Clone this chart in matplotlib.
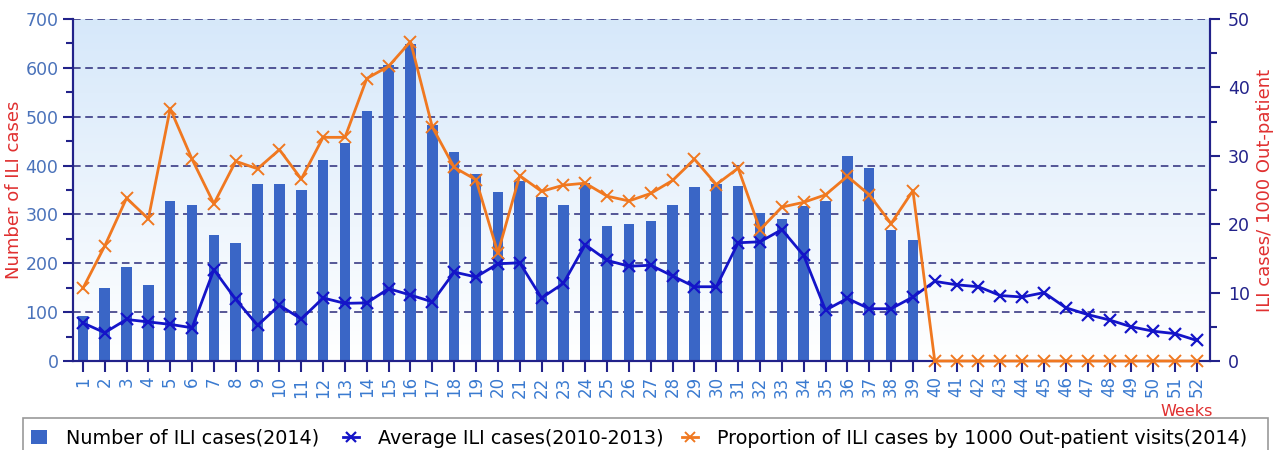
import numpy as np
import matplotlib
matplotlib.use("Agg")
import matplotlib.pyplot as plt
from matplotlib.patches import Rectangle

weeks = list(range(1, 53))

# Number of ILI cases (2014), weeks 1-39
cases_2014 = [93, 149, 192, 156, 327, 320, 257, 241, 362, 362, 350, 411,
              447, 511, 606, 648, 484, 428, 383, 346, 368, 336, 320, 364,
              276, 280, 287, 320, 356, 363, 359, 303, 290, 317, 327, 419,
              396, 268, 248]

# Average ILI cases 2010-2013, weeks 1-52
avg_cases = [78, 58, 85, 80, 75, 68, 187, 126, 73, 114, 86, 129,
             118, 119, 148, 135, 121, 182, 172, 199, 201, 129, 159, 238,
             206, 194, 196, 174, 152, 152, 242, 244, 269, 216, 104, 128,
             107, 107, 131, 163, 156, 152, 134, 131, 140, 109, 95, 84,
             70, 61, 56, 42]

# ILI cases per 1000 out-patient visits (2014)
proportion = [10.6, 16.8, 23.8, 20.8, 36.9, 29.5, 23.0, 29.2, 28.1, 30.9,
              26.6, 32.7, 32.7, 41.3, 43.1, 46.7, 34.2, 28.3, 26.5, 15.8,
              27.1, 24.8, 25.7, 26.0, 24.1, 23.4, 24.5, 26.4, 29.5, 25.8,
              28.2, 19.2, 22.5, 23.2, 24.3, 27.0, 24.3, 20.1, 24.9,
              0, 0, 0, 0, 0, 0, 0, 0, 0, 0, 0, 0, 0]

bar_color = "#3a66c6"
avg_color = "#1414c8"
prop_color = "#f07820"
axis_color = "#22228a"
red = "#e03030"

W, H = 1274, 450
fig = plt.figure(figsize=(W / 100, H / 100), dpi=100)
ax = fig.add_axes([73 / W, 89 / H, (1210 - 73) / W, 342 / H])
ax2 = ax.twinx()

# light blue gradient background
grad = np.linspace(1, 0, 256).reshape(-1, 1)
top = np.array([0.84, 0.91, 0.98])
bottom = np.array([1.0, 1.0, 1.0])
img = bottom + (top - bottom) * grad[..., None]
ax.imshow(img, extent=[0, 1, 0, 1], transform=ax.transAxes, aspect="auto", zorder=0)

b = ax.bar(weeks[:len(cases_2014)], cases_2014, width=0.48, color=bar_color,
           zorder=2, label="Number of ILI cases(2014)")
l1, = ax.plot(weeks, avg_cases, color=avg_color, marker="x", markersize=9,
              markeredgewidth=1.6, linewidth=2, zorder=3,
              label="Average ILI cases(2010-2013)")
l2, = ax2.plot(weeks, proportion, color=prop_color, marker="x", markersize=9,
               markeredgewidth=1.4, linewidth=2, zorder=3, clip_on=False,
               label="Proportion of ILI cases by 1000 Out-patient visits(2014)")

ax.set_xlim(0.55, 52.6)
ax.set_ylim(0, 700)
ax2.set_ylim(0, 50)

ax.set_yticks(range(0, 701, 100))
ax.set_yticks(range(50, 700, 100), minor=True)
ax2.set_yticks(range(0, 51, 10))
ax2.set_yticks(range(5, 50, 10), minor=True)
ax.set_xticks(weeks)
ax.set_xticklabels([str(w) for w in weeks], rotation=90, color="#3a7ad0", fontsize=12)

ax.yaxis.grid(True, which="major", linestyle=(0, (5, 3)), color="#2a2a7a",
              linewidth=1.1, zorder=1)
ax.set_axisbelow(True)

for a in (ax, ax2):
    a.spines["top"].set_visible(False)
    for s in ("left", "right", "bottom"):
        a.spines[s].set_color(axis_color)
        a.spines[s].set_linewidth(1.5)
    a.tick_params(which="both", color=axis_color, width=1.5)
    a.tick_params(which="major", length=7)
    a.tick_params(which="minor", length=5)

ax.tick_params(axis="y", labelcolor="#4a72ba", labelsize=12.5)
ax2.tick_params(axis="y", labelcolor=axis_color, labelsize=12.5, pad=6)
ax.tick_params(axis="x", length=8, pad=3)

ax.set_ylabel("Number of ILI cases", color=red, fontsize=13, labelpad=2)
ax2.set_ylabel("ILI cases/ 1000 Out-patient", color=red, fontsize=13, labelpad=4)
fig.text(1213 / W, 1 - 412 / H, "Weeks", color=red, fontsize=11.5,
         ha="right", va="center")

# legend box spans the width and runs off the bottom edge
fig.patches.append(Rectangle((23 / W, -0.05), (1268 - 23) / W, 0.05 + (H - 418) / H,
                             transform=fig.transFigure, fill=False,
                             edgecolor="#999999", linewidth=1.2))
leg_y = 1 - 438 / H
for handle, x_left in [(b, 31), (l1, 343), (l2, 682)]:
    lg = fig.legend(handles=[handle], loc="center left",
                    bbox_to_anchor=(x_left / W, leg_y), frameon=False,
                    fontsize=13.8, handlelength=0.85, handletextpad=1.0,
                    borderpad=0, borderaxespad=0, markerscale=0.8)

fig.savefig("out.png", dpi=100)
